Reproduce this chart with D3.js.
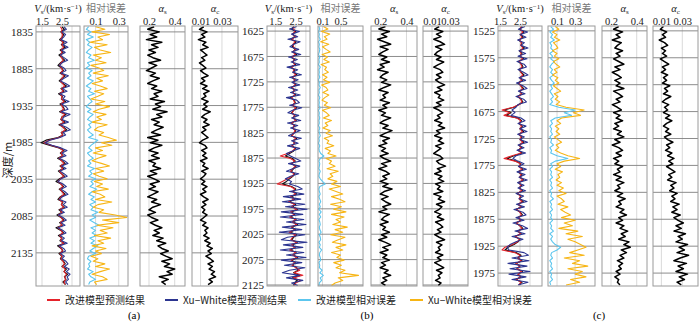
<!DOCTYPE html>
<html>
<head>
<meta charset="utf-8">
<script src="https://cdn.jsdelivr.net/npm/d3@7"></script>
<style>
  body { margin: 0; background: #fff; }
  svg { display: block; }
</style>
</head>
<body>
<svg id="chart" width="700" height="324"></svg>
<script>

// ---------------- data ----------------

// (a) well: sampled every 3.5 m from 1828 m
const depthA = d3.range(1828, 2178.5, 3.5);
const vsMeasA = [2.5, 2.62, 2.44, 2.58, 2.52, 2.38, 2.6, 2.47, 2.66, 2.41,
  2.55, 2.35, 2.5, 2.63, 2.42, 2.3, 2.48, 2.57, 2.4, 2.66,
  2.5, 2.36, 2.55, 2.72, 2.45, 2.6, 2.33, 2.52, 2.47, 2.68,
  2.4, 2.55, 2.62, 2.38, 2.7, 2.5, 2.44, 2.65, 2.35, 2.58,
  2.74, 2.46, 2.55, 2.3, 1.7, 1.45, 1.9, 2.35, 2.6, 2.42,
  2.55, 2.28, 2.5, 2.66, 2.4, 2.57, 2.32, 2.48, 2.62, 2.38,
  2.2, 2.45, 2.58, 2.36, 2.52, 2.66, 2.41, 2.3, 2.55, 2.47,
  2.62, 2.35, 2.5, 2.25, 2.45, 2.6, 2.38, 2.52, 2.2, 2.44,
  2.58, 2.32, 2.5, 2.4, 2.62, 2.28, 2.46, 2.55, 2.35, 2.5,
  2.42, 2.58, 2.66, 2.5, 2.72, 2.6, 2.78, 2.62, 2.7, 2.55, 2.68];
const vsNewA = [2.42, 2.5, 2.48, 2.52, 2.5, 2.43, 2.55, 2.5, 2.58, 2.46,
  2.5, 2.42, 2.48, 2.56, 2.45, 2.38, 2.47, 2.53, 2.44, 2.6,
  2.5, 2.42, 2.52, 2.64, 2.48, 2.56, 2.4, 2.5, 2.48, 2.6,
  2.45, 2.52, 2.58, 2.42, 2.64, 2.5, 2.46, 2.6, 2.4, 2.55,
  2.66, 2.48, 2.52, 2.36, 1.85, 1.6, 1.95, 2.38, 2.55, 2.45,
  2.52, 2.35, 2.48, 2.6, 2.43, 2.53, 2.38, 2.47, 2.58, 2.42,
  2.3, 2.45, 2.54, 2.4, 2.5, 2.6, 2.44, 2.36, 2.52, 2.47,
  2.58, 2.4, 2.5, 2.32, 2.46, 2.56, 2.42, 2.5, 2.3, 2.45,
  2.54, 2.38, 2.48, 2.43, 2.58, 2.36, 2.46, 2.52, 2.4, 2.5,
  2.45, 2.55, 2.62, 2.52, 2.66, 2.6, 2.72, 2.63, 2.68, 2.6, 2.65];
const vsXwA = [2.6, 2.72, 2.5, 2.68, 2.58, 2.45, 2.75, 2.55, 2.8, 2.48,
  2.66, 2.42, 2.6, 2.78, 2.5, 2.38, 2.6, 2.7, 2.46, 2.82,
  2.6, 2.42, 2.68, 2.88, 2.52, 2.75, 2.4, 2.65, 2.55, 2.85,
  2.48, 2.7, 2.8, 2.45, 2.9, 2.6, 2.5, 2.82, 2.42, 2.72,
  2.92, 2.55, 2.68, 2.4, 1.9, 1.65, 2.0, 2.45, 2.75, 2.5,
  2.7, 2.36, 2.62, 2.8, 2.48, 2.7, 2.4, 2.6, 2.76, 2.45,
  2.3, 2.55, 2.72, 2.45, 2.65, 2.8, 2.5, 2.38, 2.7, 2.56,
  2.76, 2.42, 2.62, 2.32, 2.55, 2.72, 2.45, 2.65, 2.3, 2.55,
  2.7, 2.4, 2.62, 2.48, 2.76, 2.36, 2.58, 2.68, 2.42, 2.62,
  2.5, 2.7, 2.8, 2.62, 2.86, 2.72, 2.9, 2.75, 2.82, 2.68, 2.8];
const errNewA = [0.04, 0.02, 0.06, 0.03, 0.08, 0.02, 0.05, 0.03, 0.07, 0.04,
  0.02, 0.06, 0.04, 0.09, 0.03, 0.05, 0.02, 0.07, 0.04, 0.06,
  0.03, 0.08, 0.05, 0.02, 0.06, 0.04, 0.09, 0.03, 0.05, 0.07,
  0.04, 0.02, 0.06, 0.03, 0.08, 0.05, 0.03, 0.07, 0.04, 0.06,
  0.03, 0.05, 0.08, 0.04, 0.12, 0.09, 0.06, 0.04, 0.07, 0.03,
  0.05, 0.08, 0.04, 0.06, 0.03, 0.09, 0.05, 0.07, 0.04, 0.1,
  0.06, 0.08, 0.05, 0.11, 0.07, 0.04, 0.09, 0.06, 0.1, 0.05,
  0.08, 0.06, 0.12, 0.07, 0.1, 0.05, 0.09, 0.13, 0.06, 0.1,
  0.07, 0.11, 0.05, 0.09, 0.06, 0.12, 0.08, 0.05, 0.1, 0.04,
  0.03, 0.06, 0.04, 0.05, 0.03, 0.08, 0.04, 0.06, 0.1, 0.05, 0.04];
const errXwA = [0.1, 0.18, 0.07, 0.22, 0.12, 0.16, 0.05, 0.2, 0.09, 0.14,
  0.23, 0.08, 0.15, 0.1, 0.19, 0.06, 0.13, 0.17, 0.08, 0.21,
  0.11, 0.16, 0.07, 0.14, 0.2, 0.09, 0.17, 0.12, 0.06, 0.18,
  0.1, 0.22, 0.13, 0.08, 0.19, 0.11, 0.15, 0.07, 0.2, 0.12,
  0.09, 0.17, 0.13, 0.21, 0.28, 0.15, 0.24, 0.1, 0.16, 0.08,
  0.19, 0.12, 0.07, 0.15, 0.22, 0.1, 0.17, 0.08, 0.13, 0.2,
  0.09, 0.16, 0.11, 0.21, 0.07, 0.14, 0.18, 0.1, 0.24, 0.12,
  0.08, 0.17, 0.13, 0.27, 0.37, 0.16, 0.3, 0.11, 0.25, 0.14,
  0.2, 0.09, 0.23, 0.12, 0.17, 0.07, 0.19, 0.1, 0.15, 0.06,
  0.12, 0.08, 0.18, 0.1, 0.22, 0.14, 0.07, 0.16, 0.2, 0.09, 0.11];
const alphaSA = [0.24, 0.19, 0.28, 0.21, 0.26, 0.18, 0.3, 0.22, 0.27, 0.2,
  0.25, 0.19, 0.23, 0.29, 0.2, 0.26, 0.22, 0.18, 0.25, 0.21,
  0.28, 0.23, 0.19, 0.26, 0.22, 0.3, 0.24, 0.27, 0.21, 0.32,
  0.25, 0.29, 0.23, 0.34, 0.26, 0.3, 0.22, 0.28, 0.24, 0.31,
  0.26, 0.22, 0.29, 0.19, 0.27, 0.21, 0.3, 0.24, 0.2, 0.27,
  0.22, 0.28, 0.2, 0.25, 0.23, 0.29, 0.21, 0.26, 0.19, 0.24,
  0.28, 0.21, 0.25, 0.2, 0.27, 0.23, 0.19, 0.26, 0.22, 0.29,
  0.23, 0.2, 0.25, 0.19, 0.22, 0.27, 0.21, 0.25, 0.3, 0.24,
  0.28, 0.23, 0.31, 0.26, 0.33, 0.27, 0.3, 0.35, 0.29, 0.33,
  0.38, 0.3, 0.36, 0.32, 0.4, 0.34, 0.38, 0.28, 0.35, 0.3, 0.33];
const alphaCA = [0.013, 0.009, 0.016, 0.011, 0.014, 0.008, 0.015, 0.012, 0.017, 0.01,
  0.013, 0.016, 0.011, 0.014, 0.009, 0.012, 0.015, 0.01, 0.013, 0.017,
  0.011, 0.014, 0.01, 0.016, 0.012, 0.018, 0.013, 0.015, 0.011, 0.017,
  0.013, 0.016, 0.012, 0.019, 0.014, 0.011, 0.016, 0.013, 0.018, 0.012,
  0.015, 0.011, 0.014, 0.017, 0.012, 0.009, 0.014, 0.016, 0.011, 0.015,
  0.012, 0.016, 0.01, 0.014, 0.012, 0.017, 0.011, 0.015, 0.013, 0.01,
  0.014, 0.011, 0.016, 0.012, 0.015, 0.01, 0.013, 0.017, 0.012, 0.015,
  0.011, 0.014, 0.012, 0.016, 0.013, 0.01, 0.015, 0.012, 0.017, 0.014,
  0.016, 0.013, 0.018, 0.014, 0.019, 0.016, 0.021, 0.017, 0.02, 0.015,
  0.019, 0.022, 0.017, 0.021, 0.018, 0.023, 0.02, 0.024, 0.018, 0.021, 0.017];

// (b) well: every 5 m from 1616 m
const depthB = d3.range(1616, 2127, 5);
const vsMeasB = [2.42, 2.3, 2.5, 2.36, 2.45, 2.28, 2.52, 2.4, 2.33, 2.48,
  2.38, 2.55, 2.3, 2.44, 2.35, 2.5, 2.26, 2.45, 2.4, 2.56,
  2.32, 2.47, 2.38, 2.52, 2.3, 2.44, 2.36, 2.5, 2.25, 2.42,
  2.48, 2.34, 2.55, 2.4, 2.3, 2.46, 2.38, 2.53, 2.28, 2.45,
  2.36, 2.5, 2.42, 2.3, 2.55, 2.38, 2.45, 2.32, 2.5, 2.4,
  2.2, 2.0, 2.35, 2.48, 2.3, 2.52, 2.4, 2.28, 2.45, 2.36,
  2.2, 2.05, 1.85, 2.3, 2.5, 2.38, 2.55, 2.3, 2.46, 2.2,
  2.5, 2.35, 2.6, 2.3, 2.45, 2.25, 2.52, 2.38, 2.6, 2.32,
  2.48, 2.22, 2.55, 2.4, 2.3, 2.58, 2.35, 2.47, 2.25, 2.52,
  2.38, 2.6, 2.3, 2.48, 2.35, 2.55, 2.62, 2.4, 2.7, 2.35,
  2.58, 2.45, 2.4];
const vsNewB = [2.38, 2.42, 2.46, 2.34, 2.48, 2.32, 2.47, 2.36, 2.4, 2.5,
  2.35, 2.48, 2.33, 2.42, 2.38, 2.46, 2.3, 2.42, 2.37, 2.5,
  2.35, 2.44, 2.4, 2.48, 2.33, 2.43, 2.38, 2.46, 2.3, 2.4,
  2.45, 2.36, 2.5, 2.4, 2.33, 2.44, 2.38, 2.5, 2.3, 2.43,
  2.38, 2.47, 2.4, 2.32, 2.5, 2.38, 2.44, 2.3, 2.47, 2.35,
  2.1, 1.75, 2.25, 2.45, 2.3, 2.48, 2.36, 2.25, 2.42, 2.33,
  2.1, 1.85, 1.6, 2.25, 2.46, 2.35, 2.5, 2.25, 2.42, 2.15,
  2.45, 2.3, 2.56, 2.25, 2.42, 2.2, 2.5, 2.33, 2.55, 2.28,
  2.44, 2.18, 2.5, 2.35, 2.26, 2.55, 2.3, 2.45, 2.2, 2.5,
  2.35, 2.56, 2.27, 2.45, 2.32, 2.52, 2.7, 2.42, 2.85, 2.38,
  2.75, 2.5, 2.42];
const vsXwB = [2.55, 2.2, 2.68, 2.3, 2.6, 2.12, 2.72, 2.4, 2.22, 2.65,
  2.3, 2.75, 2.15, 2.58, 2.28, 2.7, 2.08, 2.6, 2.35, 2.78,
  2.2, 2.62, 2.32, 2.7, 2.15, 2.6, 2.25, 2.72, 2.05, 2.55,
  2.68, 2.2, 2.8, 2.35, 2.12, 2.65, 2.3, 2.75, 2.1, 2.6,
  2.25, 2.72, 2.4, 2.15, 2.78, 2.3, 2.62, 2.1, 2.7, 2.35,
  2.05, 2.25, 2.5, 2.75, 2.15, 2.7, 2.35, 2.05, 2.65, 2.25,
  2.0, 2.3, 2.2, 2.6, 2.82, 2.2, 2.9, 1.9, 2.75, 1.85,
  2.95, 2.0, 3.05, 1.8, 2.85, 1.75, 2.9, 2.05, 3.0, 1.85,
  2.8, 1.7, 2.95, 2.1, 1.8, 3.05, 1.9, 2.85, 1.75, 2.9,
  2.05, 3.0, 1.8, 2.8, 1.95, 2.95, 2.2, 1.85, 2.7, 2.05,
  2.85, 2.3, 2.6];
const errNewB = [0.02, 0.04, 0.01, 0.03, 0.02, 0.05, 0.01, 0.03, 0.02, 0.04,
  0.03, 0.01, 0.04, 0.02, 0.03, 0.01, 0.05, 0.02, 0.03, 0.02,
  0.04, 0.01, 0.03, 0.02, 0.05, 0.02, 0.03, 0.01, 0.04, 0.02,
  0.03, 0.02, 0.05, 0.01, 0.03, 0.02, 0.04, 0.02, 0.03, 0.01,
  0.04, 0.02, 0.03, 0.05, 0.02, 0.03, 0.01, 0.04, 0.02, 0.03,
  0.06, 0.13, 0.05, 0.02, 0.04, 0.03, 0.02, 0.05, 0.03, 0.02,
  0.05, 0.1, 0.16, 0.04, 0.02, 0.03, 0.05, 0.02, 0.04, 0.06,
  0.03, 0.05, 0.02, 0.07, 0.03, 0.06, 0.02, 0.04, 0.05, 0.03,
  0.04, 0.07, 0.03, 0.05, 0.06, 0.02, 0.05, 0.03, 0.08, 0.04,
  0.03, 0.05, 0.06, 0.02, 0.04, 0.03, 0.09, 0.04, 0.12, 0.05,
  0.08, 0.03, 0.02];
const errXwB = [0.12, 0.22, 0.08, 0.26, 0.14, 0.2, 0.06, 0.24, 0.1, 0.18,
  0.27, 0.09, 0.21, 0.13, 0.25, 0.07, 0.19, 0.15, 0.23, 0.1,
  0.2, 0.12, 0.26, 0.08, 0.18, 0.22, 0.11, 0.24, 0.15, 0.09,
  0.21, 0.14, 0.28, 0.1, 0.19, 0.25, 0.12, 0.3, 0.16, 0.22,
  0.11, 0.27, 0.18, 0.32, 0.14, 0.24, 0.2, 0.35, 0.16, 0.28,
  0.22, 0.4, 0.18, 0.3, 0.25, 0.38, 0.2, 0.45, 0.27, 0.33,
  0.22, 0.42, 0.3, 0.5, 0.25, 0.4, 0.55, 0.3, 0.48, 0.6,
  0.28, 0.52, 0.35, 0.62, 0.3, 0.58, 0.4, 0.5, 0.33, 0.65,
  0.38, 0.55, 0.28, 0.6, 0.45, 0.32, 0.62, 0.4, 0.55, 0.3,
  0.5, 0.42, 0.58, 0.35, 0.52, 0.4, 0.6, 0.48, 0.9, 0.45,
  0.55, 0.38, 0.3];
const alphaSB = [0.24, 0.19, 0.27, 0.21, 0.25, 0.18, 0.23, 0.28, 0.2, 0.26,
  0.22, 0.19, 0.25, 0.21, 0.27, 0.2, 0.23, 0.18, 0.26, 0.22,
  0.2, 0.25, 0.21, 0.28, 0.23, 0.19, 0.26, 0.22, 0.24, 0.2,
  0.27, 0.22, 0.25, 0.19, 0.24, 0.21, 0.28, 0.23, 0.2, 0.26,
  0.22, 0.29, 0.24, 0.2, 0.27, 0.22, 0.25, 0.19, 0.24, 0.21,
  0.26, 0.2, 0.23, 0.28, 0.21, 0.25, 0.19, 0.24, 0.27, 0.22,
  0.25, 0.2, 0.26, 0.22, 0.29, 0.23, 0.2, 0.26, 0.21, 0.24,
  0.28, 0.22, 0.25, 0.19, 0.27, 0.23, 0.21, 0.26, 0.2, 0.24,
  0.22, 0.27, 0.21, 0.25, 0.19, 0.24, 0.28, 0.22, 0.26, 0.2,
  0.25, 0.22, 0.27, 0.21, 0.24, 0.2, 0.26, 0.23, 0.28, 0.22,
  0.25, 0.21, 0.24];
const alphaCB = [0.018, 0.013, 0.022, 0.015, 0.02, 0.012, 0.019, 0.024, 0.014, 0.021,
  0.016, 0.013, 0.02, 0.015, 0.023, 0.017, 0.012, 0.019, 0.022, 0.015,
  0.02, 0.014, 0.018, 0.024, 0.016, 0.021, 0.013, 0.019, 0.017, 0.023,
  0.015, 0.02, 0.012, 0.018, 0.022, 0.016, 0.019, 0.013, 0.021, 0.017,
  0.024, 0.015, 0.019, 0.013, 0.021, 0.017, 0.023, 0.014, 0.02, 0.016,
  0.012, 0.019, 0.022, 0.015, 0.018, 0.025, 0.016, 0.02, 0.013, 0.021,
  0.017, 0.023, 0.014, 0.019, 0.016, 0.022, 0.012, 0.02, 0.017, 0.024,
  0.015, 0.021, 0.018, 0.013, 0.02, 0.016, 0.023, 0.014, 0.019, 0.022,
  0.016, 0.02, 0.013, 0.018, 0.024, 0.015, 0.021, 0.017, 0.019, 0.014,
  0.022, 0.016, 0.02, 0.013, 0.018, 0.023, 0.015, 0.021, 0.017, 0.019,
  0.014, 0.02, 0.017];

// (c) well: every 5 m from 1517 m
const depthC = d3.range(1517, 1998, 5);
const vsMeasC = [2.62, 2.48, 2.7, 2.52, 2.66, 2.44, 2.6, 2.55, 2.72, 2.47,
  2.6, 2.5, 2.68, 2.42, 2.58, 2.65, 2.45, 2.56, 2.7, 2.5,
  2.62, 2.4, 2.55, 2.67, 2.48, 2.6, 2.38, 2.55, 2.64, 2.45,
  2.2, 1.7, 2.05, 1.8, 2.4, 2.58, 2.45, 2.62, 2.5, 2.68,
  2.44, 2.6, 2.52, 2.7, 2.45, 2.58, 2.4, 2.62, 2.2, 1.85,
  2.3, 2.55, 2.45, 2.65, 2.4, 2.6, 2.5, 2.68, 2.42, 2.58,
  2.46, 2.62, 2.35, 2.55, 2.48, 2.66, 2.4, 2.57, 2.3, 2.52,
  2.62, 2.4, 2.55, 2.3, 2.5, 2.64, 2.38, 2.56, 2.25, 2.5,
  2.4, 2.2, 1.9, 1.75, 2.3, 2.55, 2.4, 2.6, 2.3, 2.5,
  2.35, 2.62, 2.4, 2.55, 2.3, 2.6, 2.45];
const vsNewC = [2.56, 2.5, 2.64, 2.52, 2.6, 2.47, 2.57, 2.54, 2.65, 2.5,
  2.56, 2.52, 2.62, 2.46, 2.55, 2.6, 2.48, 2.54, 2.64, 2.5,
  2.58, 2.44, 2.53, 2.62, 2.5, 2.57, 2.42, 2.53, 2.6, 2.47,
  2.15, 1.6, 2.0, 1.7, 2.35, 2.54, 2.46, 2.58, 2.5, 2.62,
  2.46, 2.56, 2.5, 2.64, 2.46, 2.55, 2.42, 2.57, 2.1, 1.7,
  2.25, 2.52, 2.45, 2.6, 2.42, 2.56, 2.48, 2.63, 2.44, 2.55,
  2.47, 2.58, 2.38, 2.52, 2.46, 2.6, 2.42, 2.54, 2.34, 2.5,
  2.57, 2.42, 2.52, 2.33, 2.48, 2.6, 2.4, 2.53, 2.28, 2.47,
  2.38, 2.12, 1.75, 1.6, 2.25, 2.5, 2.38, 2.56, 2.3, 2.48,
  2.35, 2.58, 2.4, 2.52, 2.32, 2.56, 2.44];
const vsXwC = [2.75, 2.42, 2.88, 2.5, 2.8, 2.38, 2.72, 2.55, 2.9, 2.45,
  2.78, 2.4, 2.85, 2.35, 2.7, 2.82, 2.4, 2.68, 2.9, 2.45,
  2.78, 2.32, 2.65, 2.85, 2.42, 2.75, 2.3, 2.68, 2.82, 2.4,
  2.3, 2.1, 2.25, 2.05, 2.55, 2.75, 2.4, 2.8, 2.5, 2.85,
  2.38, 2.72, 2.5, 2.88, 2.4, 2.7, 2.35, 2.78, 2.3, 2.15,
  2.4, 2.7, 2.42, 2.82, 2.35, 2.75, 2.45, 2.86, 2.38, 2.7,
  2.4, 2.78, 2.3, 2.68, 2.45, 2.85, 2.32, 2.72, 2.2, 2.65,
  2.8, 2.3, 2.7, 2.15, 2.62, 2.88, 2.25, 2.75, 2.1, 2.65,
  2.3, 2.0, 1.85, 1.95, 2.7, 2.92, 2.1, 2.95, 1.9, 2.85,
  2.0, 3.0, 1.95, 2.8, 2.1, 2.9, 2.4];
const errNewC = [0.03, 0.06, 0.02, 0.05, 0.03, 0.07, 0.02, 0.04, 0.03, 0.06,
  0.02, 0.05, 0.03, 0.07, 0.04, 0.02, 0.05, 0.03, 0.06, 0.02,
  0.04, 0.07, 0.03, 0.05, 0.02, 0.04, 0.06, 0.03, 0.05, 0.02,
  0.12, 0.3, 0.18, 0.26, 0.08, 0.03, 0.05, 0.02, 0.04, 0.03,
  0.05, 0.02, 0.04, 0.03, 0.06, 0.02, 0.04, 0.03, 0.1, 0.22,
  0.08, 0.03, 0.05, 0.02, 0.04, 0.03, 0.05, 0.02, 0.04, 0.03,
  0.05, 0.02, 0.04, 0.03, 0.06, 0.02, 0.04, 0.03, 0.05, 0.02,
  0.04, 0.03, 0.05, 0.02, 0.04, 0.03, 0.06, 0.02, 0.05, 0.03,
  0.05, 0.08, 0.14, 0.1, 0.04, 0.03, 0.05, 0.02, 0.04, 0.03,
  0.05, 0.02, 0.04, 0.03, 0.05, 0.02, 0.03];
const errXwC = [0.08, 0.12, 0.05, 0.1, 0.07, 0.13, 0.06, 0.09, 0.11, 0.05,
  0.1, 0.07, 0.12, 0.06, 0.09, 0.13, 0.07, 0.1, 0.05, 0.11,
  0.08, 0.12, 0.06, 0.1, 0.14, 0.07, 0.11, 0.08, 0.13, 0.09,
  0.2, 0.4, 0.28, 0.36, 0.15, 0.1, 0.14, 0.08, 0.12, 0.09,
  0.13, 0.07, 0.11, 0.15, 0.09, 0.12, 0.08, 0.14, 0.22, 0.35,
  0.18, 0.1, 0.14, 0.08, 0.16, 0.11, 0.13, 0.09, 0.15, 0.1,
  0.17, 0.12, 0.2, 0.1, 0.15, 0.18, 0.11, 0.22, 0.14, 0.19,
  0.25, 0.15, 0.3, 0.18, 0.27, 0.12, 0.33, 0.2, 0.38, 0.22,
  0.3, 0.36, 0.42, 0.33, 0.24, 0.4, 0.18, 0.35, 0.27, 0.44,
  0.22, 0.38, 0.3, 0.42, 0.25, 0.35, 0.2];
const alphaSC = [0.26, 0.22, 0.29, 0.24, 0.27, 0.21, 0.28, 0.25, 0.23, 0.29,
  0.24, 0.27, 0.22, 0.26, 0.3, 0.23, 0.27, 0.21, 0.25, 0.28,
  0.23, 0.27, 0.24, 0.3, 0.22, 0.26, 0.29, 0.24, 0.27, 0.21,
  0.25, 0.28, 0.22, 0.27, 0.24, 0.29, 0.23, 0.26, 0.22, 0.28,
  0.25, 0.3, 0.23, 0.27, 0.21, 0.26, 0.29, 0.24, 0.28, 0.22,
  0.26, 0.23, 0.29, 0.25, 0.27, 0.22, 0.28, 0.24, 0.3, 0.25,
  0.27, 0.23, 0.29, 0.25, 0.31, 0.26, 0.28, 0.24, 0.3, 0.27,
  0.32, 0.26, 0.29, 0.24, 0.3, 0.27, 0.33, 0.28, 0.31, 0.26,
  0.34, 0.3, 0.35, 0.28, 0.32, 0.27, 0.3, 0.25, 0.29, 0.26,
  0.28, 0.24, 0.27, 0.23, 0.26, 0.25, 0.27];
const alphaCC = [0.012, 0.009, 0.015, 0.011, 0.014, 0.008, 0.013, 0.016, 0.01, 0.014,
  0.011, 0.015, 0.009, 0.013, 0.017, 0.011, 0.014, 0.01, 0.016, 0.012,
  0.015, 0.011, 0.018, 0.013, 0.016, 0.012, 0.019, 0.014, 0.011, 0.017,
  0.013, 0.016, 0.012, 0.018, 0.014, 0.02, 0.015, 0.012, 0.017, 0.014,
  0.019, 0.013, 0.016, 0.021, 0.015, 0.018, 0.014, 0.02, 0.016, 0.022,
  0.017, 0.021, 0.015, 0.019, 0.023, 0.017, 0.02, 0.016, 0.024, 0.019,
  0.022, 0.018, 0.025, 0.02, 0.023, 0.019, 0.027, 0.021, 0.025, 0.02,
  0.028, 0.022, 0.026, 0.031, 0.024, 0.029, 0.022, 0.033, 0.026, 0.03,
  0.024, 0.035, 0.027, 0.032, 0.025, 0.036, 0.028, 0.022, 0.034, 0.026,
  0.031, 0.024, 0.035, 0.027, 0.032, 0.025, 0.029];

// depth tick labels
const depthTicksA = [1835, 1885, 1935, 1985, 2035, 2085, 2135];
const depthTicksB = [1625, 1675, 1725, 1775, 1825, 1875, 1925, 1975, 2025, 2075, 2125];
const depthTicksC = [1525, 1575, 1625, 1675, 1725, 1775, 1825, 1875, 1925, 1975];

// top tick labels of each track
const vsTicks = [1.5, 2.5];
const errTicksAC = [0.1, 0.3];
const errTicksB = [0.1, 0.5];
const alphaSTicks = [0.2, 0.4];
const alphaCTicks = [0.01, 0.03];

const legendLabels = ["改进模型预测结果", "Xu−White模型预测结果", "改进模型相对误差", "Xu−White模型相对误差"];
const panelLabels = ["(a)", "(b)", "(c)"];

// ---------------- drawing ----------------

const svg = d3.select("#chart");

const colRed = "#e5232b",
      colBlue = "#2c3590",
      colCyan = "#5cc6ee",
      colYellow = "#f7b514";

const serif = "'Liberation Serif', 'DejaVu Serif', serif";
const cjk = "'Noto Sans CJK SC', sans-serif";

// frame top and bottom, same for every panel
const frameTop = 26, frameBottom = 286;

let clipId = 0;

// One track = a framed box with its own x scale and a few curves
function drawTrack(g, y, t) {

  const x = d3.scaleLinear().domain(t.domain).range([t.x0, t.x1]);

  // vertical grid
  g.append("g")
    .selectAll("line")
    .data(t.grid)
    .enter()
    .append("line")
    .attr("x1", d => x(d)).attr("x2", d => x(d))
    .attr("y1", frameTop).attr("y2", frameBottom)
    .style("stroke", "#cfcfcf")
    .style("stroke-width", 0.8);

  // horizontal lines at the depth ticks
  g.append("g")
    .selectAll("line")
    .data(t.depthTicks)
    .enter()
    .append("line")
    .attr("x1", t.x0).attr("x2", t.x1)
    .attr("y1", d => y(d)).attr("y2", d => y(d))
    .style("stroke", "#808080")
    .style("stroke-width", 0.9);

  // clip curves to the frame
  const id = "clip" + (clipId++);
  g.append("clipPath").attr("id", id)
    .append("rect")
    .attr("x", t.x0).attr("y", frameTop)
    .attr("width", t.x1 - t.x0).attr("height", frameBottom - frameTop);

  const curves = g.append("g").attr("clip-path", "url(#" + id + ")");

  for (let s of t.series) {
    const line = d3.line()
      .defined((d, i) => i < t.depth.length)
      .x(d => x(d))
      .y((d, i) => y(t.depth[i]));
    curves.append("path")
      .datum(s.values)
      .attr("d", line)
      .style("fill", "none")
      .style("stroke", s.color)
      .style("stroke-width", s.width)
      .style("stroke-linejoin", "round");
  }

  // frame
  g.append("rect")
    .attr("x", t.x0).attr("y", frameTop)
    .attr("width", t.x1 - t.x0).attr("height", frameBottom - frameTop)
    .style("fill", "none")
    .style("stroke", "#9a9a9a")
    .style("stroke-width", 1);

  // top tick labels
  const ax = g.append("g")
    .attr("transform", "translate(0," + frameTop + ")")
    .call(d3.axisTop(x).tickValues(t.ticks).tickSize(0).tickPadding(1)
          .tickFormat(d3.format(t.fmt)));
  ax.select(".domain").remove();
  ax.selectAll("text")
    .style("font-family", serif)
    .style("font-size", "10.5px")
    .style("fill", "#222");

  // track title
  const title = g.append("text")
    .attr("x", (t.x0 + t.x1) / 2)
    .attr("y", 12)
    .attr("text-anchor", "middle")
    .style("font-size", "10.5px")
    .style("fill", "#222");

  if (t.title == "vs") {
    title.style("font-family", serif);
    title.append("tspan").style("font-style", "italic").text("V");
    title.append("tspan").attr("dy", 2).style("font-size", "7px").text("s");
    title.append("tspan").attr("dy", -2).text("/(km·s");
    title.append("tspan").attr("dy", -3).style("font-size", "7px").text("−1");
    title.append("tspan").attr("dy", 3).text(")");
  } else if (t.title == "err") {
    title.style("font-family", cjk).style("fill", "#777").style("font-size", "10px")
      .text("相对误差");
  } else {
    title.style("font-family", serif);
    title.append("tspan").style("font-style", "italic").text("α");
    title.append("tspan").attr("dy", 2).style("font-size", "7px").text(t.title);
  }
}

function drawPanel(p) {
  const g = svg.append("g");

  const y = d3.scaleLinear().domain(p.depthDomain).range([frameTop, frameBottom]);

  // depth labels to the left of the first track
  const ay = g.append("g")
    .attr("transform", "translate(" + p.tracks[0].x0 + ",0)")
    .call(d3.axisLeft(y).tickValues(p.depthTicks).tickSize(0).tickPadding(3)
          .tickFormat(d3.format("d")));
  ay.select(".domain").remove();
  ay.selectAll("text")
    .style("font-family", serif)
    .style("font-size", "11px")
    .style("fill", "#222");

  for (let t of p.tracks) {
    t.depth = p.depth;
    t.depthTicks = p.depthTicks;
    drawTrack(g, y, t);
  }

  svg.append("text")
    .attr("x", p.labelX).attr("y", 319)
    .attr("text-anchor", "middle")
    .style("font-family", serif)
    .style("font-size", "11px")
    .text(p.label);
}

// Build the track options for one panel
function tracksFor(xs, d, meas, pNew, pXw, eNew, eXw, aS, aC) {
  return [
    { x0: xs[0][0], x1: xs[0][1], domain: d.vs, ticks: vsTicks, grid: d.vsGrid, fmt: ".1f", title: "vs",
      series: [{ values: meas, color: "#111", width: 1.2 },
               { values: pNew, color: colRed, width: 1.1 },
               { values: pXw, color: colBlue, width: 1.1 }] },
    { x0: xs[1][0], x1: xs[1][1], domain: d.err, ticks: d.errTicks, grid: d.errTicks, fmt: ".1f", title: "err",
      series: [{ values: eNew, color: colCyan, width: 1.1 },
               { values: eXw, color: colYellow, width: 1.1 }] },
    { x0: xs[2][0], x1: xs[2][1], domain: d.as, ticks: alphaSTicks, grid: [0.2, 0.4], fmt: ".1f", title: "s",
      series: [{ values: aS, color: "#000", width: 1.5 }] },
    { x0: xs[3][0], x1: xs[3][1], domain: d.ac, ticks: alphaCTicks, grid: [0.01, 0.03], fmt: ".2f", title: "c",
      series: [{ values: aC, color: "#000", width: 1.5 }] }
  ];
}

const panels = [
  { label: panelLabels[0], labelX: 134, depth: depthA, depthDomain: [1827, 2180], depthTicks: depthTicksA,
    tracks: tracksFor([[36, 80], [84, 128], [140, 185], [192, 238]],
      { vs: [1.2, 3.4], vsGrid: [1.5, 2.5, 3.0], err: [0, 0.38], errTicks: errTicksAC,
        as: [0.13, 0.48], ac: [0.002, 0.045] },
      vsMeasA, vsNewA, vsXwA, errNewA, errXwA, alphaSA, alphaCA) },
  { label: panelLabels[1], labelX: 367, depth: depthB, depthDomain: [1615, 2127], depthTicks: depthTicksB,
    tracks: tracksFor([[267, 310], [318, 363], [371, 417], [423, 468]],
      { vs: [1.1, 3.2], vsGrid: [1.5, 2.5, 3.0], err: [0, 1.0], errTicks: errTicksB,
        as: [0.13, 0.48], ac: [0, 0.05] },
      vsMeasB, vsNewB, vsXwB, errNewB, errXwB, alphaSB, alphaCB) },
  { label: panelLabels[2], labelX: 599, depth: depthC, depthDomain: [1516, 1999], depthTicks: depthTicksC,
    tracks: tracksFor([[498, 542], [548, 595], [602, 647], [653, 698]],
      { vs: [1.4, 3.6], vsGrid: [1.5, 2.5, 3.0], err: [0, 0.52], errTicks: errTicksAC,
        as: [0.13, 0.48], ac: [0.002, 0.045] },
      vsMeasC, vsNewC, vsXwC, errNewC, errXwC, alphaSC, alphaCC) }
];

panels.forEach(drawPanel);

// depth axis title
svg.append("text")
  .attr("transform", "translate(12,160) rotate(-90)")
  .attr("text-anchor", "middle")
  .style("font-family", cjk)
  .style("font-size", "11px")
  .style("fill", "#222")
  .text("深度/m");

// legend
const legendX = [47, 165, 298, 410];
const legendColors = [colRed, colBlue, colCyan, colYellow];
const legend = svg.append("g").attr("class", "legend");
legendLabels.forEach(function(txt, i) {
  legend.append("line")
    .attr("x1", legendX[i]).attr("x2", legendX[i] + 13)
    .attr("y1", 300).attr("y2", 300)
    .style("stroke", legendColors[i])
    .style("stroke-width", 2);
  legend.append("text")
    .attr("x", legendX[i] + 18).attr("y", 304)
    .style("font-family", cjk)
    .style("font-size", "10px")
    .style("fill", "#222")
    .text(txt);
});

</script>
</body>
</html>
